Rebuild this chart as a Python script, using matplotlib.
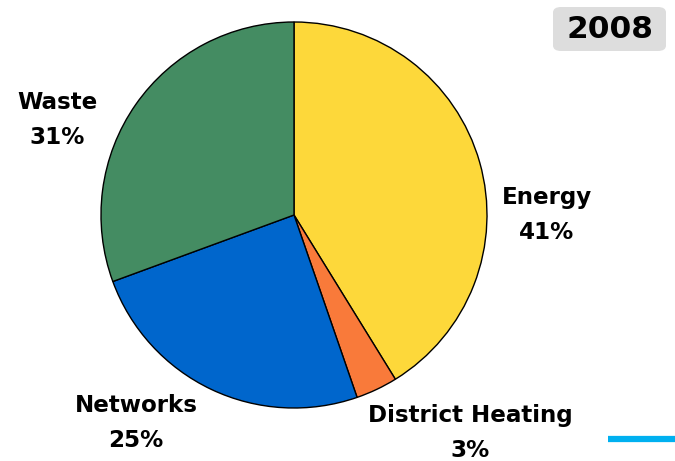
import matplotlib
matplotlib.use("Agg")
import matplotlib.pyplot as plt
from matplotlib.patches import FancyBboxPatch
from matplotlib.lines import Line2D

# data
sectors = ["Energy", "District Heating", "Networks", "Waste"]
shares = [41.2, 3.5, 24.7, 30.6]
share_labels = ["41%", "3%", "25%", "31%"]
colors = ["#FDD83A", "#F97A3A", "#0066CC", "#448C62"]
year = "2008"

W, H = 675, 461
fig = plt.figure(figsize=(W / 100, H / 100), dpi=100)

# square axes holding the pie (center ~ (294,215) px, radius ~193 px)
cx, cy, r = 294, 215, 193
ax = fig.add_axes([(cx - r) / W, (H - cy - r) / H, 2 * r / W, 2 * r / H])
ax.pie(shares, colors=colors, startangle=90, counterclock=False, radius=1,
       wedgeprops=dict(edgecolor="black", linewidth=1))
ax.set_xlim(-1.0, 1.0)
ax.set_ylim(-1.0, 1.0)
ax.axis("off")

# label positions in pixels (centre of the two-line label)
label_pos = {"Energy": (547, 215), "District Heating": (470, 433),
             "Networks": (136, 423), "Waste": (57, 120)}
for name, pct in zip(sectors, share_labels):
    x, y = label_pos[name]
    fig.text(x / W, 1 - y / H, f"{name}\n{pct}", ha="center", va="center",
             fontsize=16.6, fontweight="bold", linespacing=1.62,
             family="DejaVu Sans")

# year badge
box = FancyBboxPatch((553 / W, 1 - 51 / H), 113 / W, 44 / H,
                     boxstyle="round,pad=0,rounding_size=0.012",
                     transform=fig.transFigure, facecolor="#DDDDDD",
                     edgecolor="none")
fig.patches.append(box)
fig.text(610 / W, 1 - 29 / H, year, ha="center", va="center",
         fontsize=22.5, fontweight="bold", family="DejaVu Sans")

# cyan stroke bottom right
fig.lines.append(Line2D([608 / W, 675 / W], [1 - 438.5 / H, 1 - 438.5 / H],
                        transform=fig.transFigure, color="#00B0F0",
                        linewidth=4.5, solid_capstyle="butt"))

fig.savefig("out.png", dpi=100)
